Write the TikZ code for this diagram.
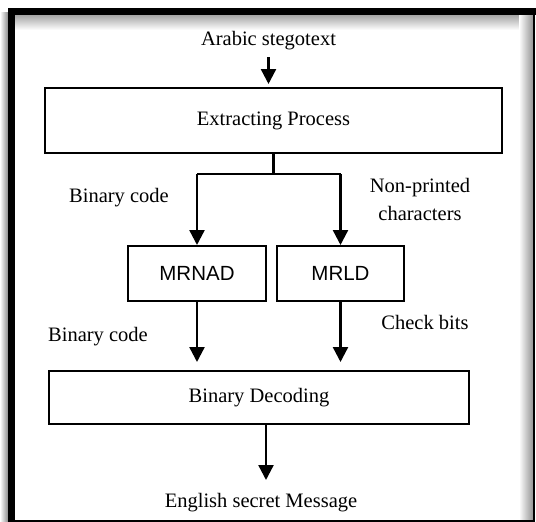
\documentclass[tikz,border=0pt]{standalone}
\usepackage{fontspec}
\setmainfont{Liberation Serif}
\newfontfamily\arialfont{Liberation Sans}
\usetikzlibrary{arrows.meta}

\begin{document}
\begin{tikzpicture}[x=1pt,y=-1pt,
    box/.style={draw, line width=2pt, inner sep=0pt, font=\fontsize{20.5}{24}\selectfont},
    lbl/.style={inner sep=0pt, align=center, font=\fontsize{20.5}{28}\selectfont},
    flow/.style={-{Triangle[width=15pt,length=15pt]}, line width=2.4pt}]
\useasboundingbox (0,0) rectangle (536,522);

% The frame with its shadow
\shade[left color=white, right color=black!45] (0,12) rectangle (8,522);
\shade[top color=black!35, bottom color=white] (15,15) rectangle (522,30);
\shade[left color=white, right color=black!45] (519,15) rectangle (534,520);
\fill (8,8) rectangle (15,522);
\fill (8,8) rectangle (536,15);
\draw[line width=1.5pt] (534,15) -- (534,521) -- (8,521);

% The boxes
\node[box, minimum width=457pt, minimum height=65pt] (ext) at (273.5,120.5) {Extracting Process};
\node[box, minimum width=138pt, minimum height=55pt, font=\fontsize{20.5}{24}\arialfont] (mrnad) at (197,273.5) {MRNAD};
\node[box, minimum width=127pt, minimum height=55pt, font=\fontsize{20.5}{24}\arialfont] (mrld) at (340.5,273.5) {MRLD};
\node[box, minimum width=420pt, minimum height=53pt] (dec) at (259,397.5) {Binary Decoding};

% The texts
\node[lbl] (in) at (268.5,41) {Arabic stegotext};
\node[lbl] (out) at (261,503) {English secret Message};
\node[lbl] (code1) at (119,198) {Binary code};
\node[lbl] (chars) at (420,199) {Non-printed\\characters};
\node[lbl] (check) at (425,322) {Check bits};
\node[lbl] (code2) at (98,337) {Binary code};

% The arrows
\draw[flow] (268.5,57) -- (268.5,84);
\draw[line width=2.4pt] (ext.south) -- ++(0,20) coordinate (split);
\draw[line width=2.4pt] (split -| mrnad.north) -- (split -| mrld.north);
\draw[flow] (split -| mrnad.north) -- (mrnad.north);
\draw[flow] (split -| mrld.north) -- (mrld.north);
\draw[flow] (mrnad.south) -- ([yshift=8pt]mrnad.south |- dec.north);
\draw[flow] (mrld.south) -- ([yshift=8pt]mrld.south |- dec.north);
\coordinate (end) at (266,480);
\draw[flow] (dec.south -| end) -- (end);

\end{tikzpicture}
\end{document}
